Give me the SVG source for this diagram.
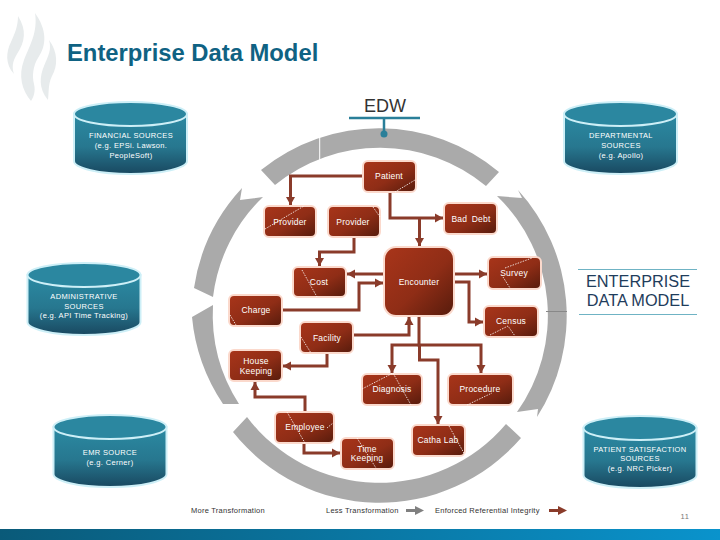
<svg xmlns="http://www.w3.org/2000/svg" width="720" height="540" viewBox="0 0 720 540">
<style>
text{font-family:"Liberation Sans",Arial,sans-serif}
.ring{fill:#aaaaaa}
.n{fill:url(#nodeGrad);stroke:#fbd9cc;stroke-width:2}
.nt{fill:#fff;font-size:8.5px;letter-spacing:.2px;text-anchor:middle}
.ct{fill:#fff;font-size:7.5px;letter-spacing:.35px;text-anchor:middle}
.c{fill:none;stroke:#8a3b2a;stroke-width:3}
.d{fill:none;stroke:#fff;stroke-width:.8;stroke-dasharray:1.5 1.2}
.lg{fill:#333;font-size:7.5px;letter-spacing:.25px}
.fl{fill:#e7ebec}
</style>
<defs>
<linearGradient id="nodeGrad" x1="0" y1="0" x2="1" y2="1"><stop offset="0" stop-color="#a9351a"/><stop offset=".55" stop-color="#8f2d16"/><stop offset="1" stop-color="#561b0c"/></linearGradient>
<linearGradient id="cyl" x1="0" y1="0" x2="0" y2="1"><stop offset="0" stop-color="#2b8aa3"/><stop offset=".55" stop-color="#27778f"/><stop offset="1" stop-color="#194860"/></linearGradient>
<linearGradient id="bar" x1="0" y1="0" x2="1" y2="0"><stop offset="0" stop-color="#0a5a79"/><stop offset="1" stop-color="#0a93cc"/></linearGradient>
<marker id="ah" markerUnits="userSpaceOnUse" markerWidth="9" markerHeight="10" refX="8" refY="5" orient="auto"><path d="M0 .5L8 5L0 9.500Z" fill="#8a3b2a"/></marker>
<g id="cylinder"><path d="M0 12V59A56.5 13 0 0 0 113 59V12Z" fill="url(#cyl)" stroke="#cdeff7" stroke-width="2"/><ellipse cx="56.5" cy="12" rx="56.5" ry="12" fill="#2b87a0" stroke="#cdeff7" stroke-width="2"/></g>
</defs>
<rect width="720" height="540" fill="#fff"/>

<g id="logo">
<path class="fl" d="M18 16C27 30 25 42 17 54C12 62 12 68 14 74C5 64 6 52 11 42C15 33 18 26 18 16Z"/>
<path class="fl" d="M35 13C47 30 47 45 38 58C33 66 32 76 34 84C36 92 33 98 31 101C22 90 18 76 24 60C30 45 38 32 35 13Z"/>
<path class="fl" d="M49 40C58 52 58 66 52 76C48 84 49 92 48 100C38 88 40 76 44 66C48 56 52 50 49 40Z"/>
</g>
<text x="67" y="61" font-size="23.800" font-weight="700" fill="#0f6283">Enterprise Data Model</text>

<g id="ring">
<path class="ring" d="M261 170A187 187 0 0 1 499 172L486 186A166 166 0 0 0 275 185Z"/>
<path d="M319.700 137V160" stroke="#fff" stroke-width="1"/>
<path class="ring" d="M497 196L522 198L518 190A187 187 0 0 1 537 417L538 409L517 412A166 166 0 0 0 497 196Z"/>
<path d="M546 311.500H567" stroke="#888" stroke-width="1"/>
<path class="ring" d="M233 432A187 187 0 0 0 521 438L506 424A166 166 0 0 1 247 417Z"/>
<path class="ring" d="M192 317L213 305A166 166 0 0 0 239 404H223A187 187 0 0 1 192 317Z"/>
<path class="ring" d="M194 288A187 187 0 0 1 242 188L240 200L263 197A166 166 0 0 0 213 297Z"/>
</g>

<g id="edw">
<text x="385" y="112" font-size="18" text-anchor="middle" fill="#333">EDW</text>
<path d="M349 118H420M384 118V134" stroke="#2a7f99" stroke-width="2.500" fill="none"/>
<circle cx="384" cy="134" r="3.500" fill="#2a7f99"/>
</g>

<g id="connectors">
<path class="c" marker-end="url(#ah)" d="M363 176H290.500V205"/>
<path class="c" marker-end="url(#ah)" d="M390 193V218H443"/>
<path class="c" marker-end="url(#ah)" d="M419.500 218V246"/>
<path class="c" marker-end="url(#ah)" d="M354 238V252H319.500V266"/>
<path class="c" marker-end="url(#ah)" d="M383 274H347"/>
<path class="c" marker-end="url(#ah)" d="M455 274H487"/>
<path class="c" marker-end="url(#ah)" d="M455 282H469V322H483"/>
<path class="c" marker-end="url(#ah)" d="M283 310H359V283H383"/>
<path class="c" marker-end="url(#ah)" d="M354 335H409V317"/>
<path class="c" marker-end="url(#ah)" d="M327 354V366H283"/>
<path class="c" marker-end="url(#ah)" d="M305 411V397H255V382"/>
<path class="c" marker-end="url(#ah)" d="M304 444V453H340"/>
<path class="c" marker-end="url(#ah)" d="M419.500 345H392V373"/>
<path class="c" marker-end="url(#ah)" d="M419 317V345H481V373"/>
<path class="c" marker-end="url(#ah)" d="M419.500 345V360H438V424"/>
</g>

<g id="patient"><rect class="n" x="363" y="161" width="53" height="31" rx="5"/><path class="d" d="M395 192L415 180"/><text class="nt" x="389" y="179">Patient</text></g>
<g id="provider1"><rect class="n" x="264" y="206" width="52" height="31" rx="5"/><path class="d" d="M265 229L304 206"/><text class="nt" x="290" y="225">Provider</text></g>
<g id="provider2"><rect class="n" x="328" y="206" width="52" height="31" rx="5"/><path class="d" d="M373 207L380 217"/><text class="nt" x="353" y="225">Provider</text></g>
<g id="bad-debt"><rect class="n" x="444" y="203" width="53" height="31" rx="5"/><text class="nt" x="471" y="222" word-spacing="2">Bad Debt</text></g>
<g id="encounter"><rect class="n" x="384" y="247" width="70" height="69" rx="12"/><text class="nt" x="419" y="285">Encounter</text></g>
<g id="survey"><rect class="n" x="488" y="257" width="53" height="32" rx="5"/><path class="d" d="M505 268L532 258M503 277L510 288"/><text class="nt" x="514" y="276">Survey</text></g>
<g id="cost"><rect class="n" x="293" y="267" width="53" height="30" rx="5"/><path class="d" d="M302 270L317 297"/><text class="nt" x="319" y="285">Cost</text></g>
<g id="charge"><rect class="n" x="229" y="295" width="53" height="31" rx="5"/><path class="d" d="M230 315L236 325"/><text class="nt" x="256" y="313">Charge</text></g>
<g id="census"><rect class="n" x="484" y="306" width="54" height="31" rx="5"/><path class="d" d="M490 335L508 326L515 336"/><text class="nt" x="511" y="324">Census</text></g>
<g id="facility"><rect class="n" x="300" y="322" width="53" height="31" rx="5"/><path class="d" d="M301 337L311 353"/><text class="nt" x="327" y="341">Facility</text></g>
<g id="house-keeping"><rect class="n" x="229" y="350" width="53" height="31" rx="5"/><text class="nt" x="256" y="364">House</text><text class="nt" x="256" y="374">Keeping</text></g>
<g id="diagnosis"><rect class="n" x="362" y="374" width="60" height="31" rx="5"/><path class="d" d="M362 389L393 373L411 405"/><text class="nt" x="392" y="392">Diagnosis</text></g>
<g id="procedure"><rect class="n" x="448" y="374" width="65" height="31" rx="5"/><path class="d" d="M467 405L492 393"/><text class="nt" x="480" y="392">Procedure</text></g>
<g id="employee"><rect class="n" x="275" y="412" width="59" height="31" rx="5"/><path class="d" d="M287 412L305 443M327 428L333 423"/><text class="nt" x="305" y="430">Employee</text></g>
<g id="time-keeping"><rect class="n" x="341" y="438" width="53" height="31" rx="5"/><path class="d" d="M357 438L376 468"/><text class="nt" x="367" y="452">Time</text><text class="nt" x="367" y="461">Keeping</text></g>
<g id="catha-lab"><rect class="n" x="412" y="425" width="53" height="31" rx="5"/><path class="d" d="M449 426L465 455"/><text class="nt" x="438" y="443">Catha Lab</text></g>

<g id="financial"><use href="#cylinder" x="74" y="102"/><text class="ct" x="131" y="138">FINANCIAL SOURCES</text><text class="ct" x="131" y="148">(e.g. EPSi. Lawson.</text><text class="ct" x="131" y="158">PeopleSoft)</text></g>
<g id="departmental"><use href="#cylinder" x="564" y="102"/><text class="ct" x="621" y="138">DEPARTMENTAL</text><text class="ct" x="621" y="148">SOURCES</text><text class="ct" x="621" y="158">(e.g. Apollo)</text></g>
<g id="administrative"><use href="#cylinder" x="27.500" y="263"/><text class="ct" x="84" y="299">ADMINISTRATIVE</text><text class="ct" x="84" y="309">SOURCES</text><text class="ct" x="84" y="318">(e.g. API Time Tracking)</text></g>
<g id="emr"><use href="#cylinder" x="53.500" y="415"/><text class="ct" x="110" y="455">EMR SOURCE</text><text class="ct" x="110" y="465">(e.g. Cerner)</text></g>
<g id="patient-satisfaction"><use href="#cylinder" x="583.500" y="416"/><text class="ct" x="640" y="452">PATIENT SATISFACTION</text><text class="ct" x="640" y="461">SOURCES</text><text class="ct" x="640" y="471">(e.g. NRC Picker)</text></g>

<g id="enterprise-label">
<path d="M578 269.500H697M579 314.500H697" stroke="#6fb3c4" stroke-width="1"/>
<text x="638" y="287" font-size="16.300" text-anchor="middle" fill="#1f3d5c">ENTERPRISE</text>
<text x="638" y="306" font-size="16.300" text-anchor="middle" fill="#1f3d5c">DATA MODEL</text>
</g>

<g id="legend">
<text class="lg" x="191" y="513">More Transformation</text>
<text class="lg" x="326" y="513">Less  Transformation</text>
<path d="M406 510.500H417" stroke="#808080" stroke-width="3"/><path d="M415 506L424 510.500L415 515Z" fill="#808080"/>
<text class="lg" x="435" y="513">Enforced Referential Integrity</text>
<path d="M549 510.500H560" stroke="#8a3b2a" stroke-width="3"/><path d="M558 506L567 510.500L558 515Z" fill="#8a3b2a"/>
</g>
<text x="685" y="519" font-size="7.500" text-anchor="middle" fill="#777" letter-spacing=".6">11</text>
<rect id="footer" x="0" y="529" width="720" height="11" fill="url(#bar)"/>
</svg>
